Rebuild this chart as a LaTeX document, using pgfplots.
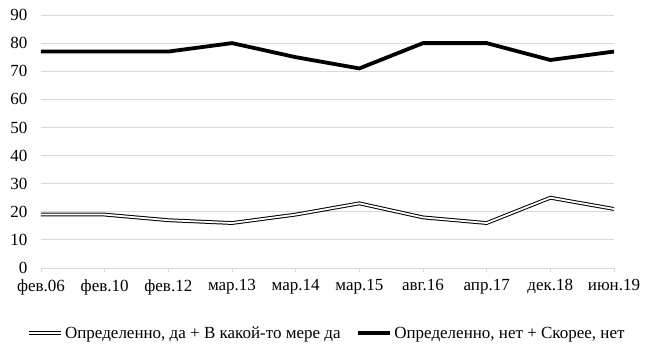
\documentclass[border=0pt]{standalone}
\usepackage{fontspec}
\setmainfont{Liberation Serif}
\usepackage{pgfplots}
\pgfplotsset{compat=1.18}
\definecolor{gridc}{RGB}{217,217,217}
\begin{document}
\begin{tikzpicture}
\begin{axis}[name=ax,
  scale only axis, width=573pt, height=253pt,
  xmin=0, xmax=9, ymin=0, ymax=90,
  ytick={0,10,...,90},
  xtick={0,...,9},
  xticklabels={фев.06,фев.10,фев.12,мар.13,мар.14,мар.15,авг.16,апр.17,дек.18,июн.19},
  axis x line*=bottom, axis y line*=left,
  y axis line style={draw=none},
  x axis line style={draw=gridc, line width=0.8pt},
  ytick style={draw=none},
  xtick style={draw=gridc, line width=0.8pt},
  tick align=outside, major tick length=4pt,
  ymajorgrids, grid style={draw=gridc, line width=0.8pt},
  /pgf/number format/assume math mode=true,
  ticklabel style={font=\fontsize{17}{19}\selectfont},
  yticklabel style={xshift=-6pt},
  xticklabel style={yshift=-4pt},
  legend columns=2,
  legend style={at={(axis description cs:0.499,-0.215)}, anchor=north, draw=none,
    font=\fontsize{17}{19}\selectfont, /tikz/every even column/.append style={column sep=14pt}},
  legend image code/.code={\draw[#1] (0pt,0pt) -- (32pt,0pt);},
]
\addplot[draw=black, line width=1pt, double=white, double distance=1.8pt] coordinates {
(0,19) (1,19) (2,17) (3,16) (4,19) (5,23) (6,18) (7,16) (8,25) (9,21)};
\addlegendentry{Определенно, да + В какой-то мере да}
\addplot[draw=black, line width=3.8pt] coordinates {
(0,77) (1,77) (2,77) (3,80) (4,75) (5,71) (6,80) (7,80) (8,74) (9,77)};
\addlegendentry{Определенно, нет + Скорее, нет}
\end{axis}
\pgfresetboundingbox
\path (ax.south west) ++(-41pt,-83pt) rectangle ++(650pt,351pt);
\end{tikzpicture}
\end{document}
